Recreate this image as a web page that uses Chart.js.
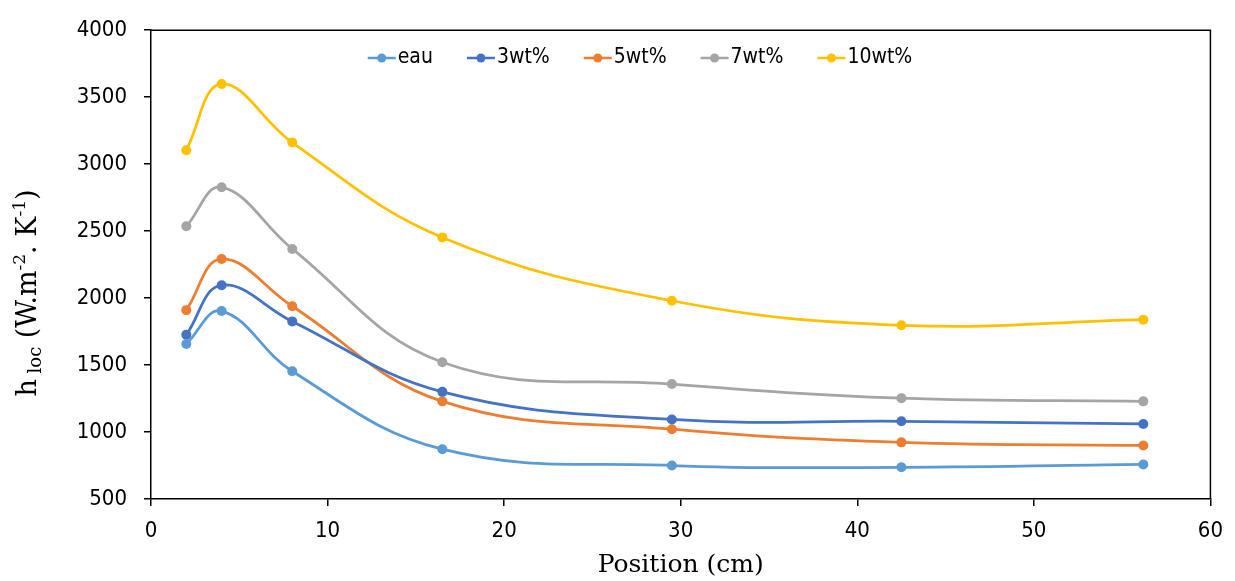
<!DOCTYPE html>
<html lang="fr">
<head>
    <meta charset="UTF-8">
    <title>h loc en fonction de la position</title>
    <style>
        body {
            margin: 0;
            background-color: #fff;
        }
        canvas {
            display: block;
        }
    </style>
    <script src="https://cdn.jsdelivr.net/npm/chart.js"></script>
</head>
<body>
    <canvas id="graphique" width="1235" height="581"></canvas>

    <script>
        // Positions le long du tube (cm)
        const positions = [2, 4, 8, 16.5, 29.5, 42.5, 56.2];

        // h loc (W.m-2.K-1) pour chaque fluide
        const eau = [1657, 1903, 1454, 872, 750, 737, 758];
        const wt3 = [1726, 2096, 1826, 1300, 1094, 1080, 1060];
        const wt5 = [1910, 2292, 1939, 1229, 1021, 923, 900];
        const wt7 = [2536, 2828, 2367, 1521, 1358, 1253, 1229];
        const wt10 = [3104, 3599, 3161, 2453, 1980, 1797, 1839];

        const noms = ['eau', '3wt%', '5wt%', '7wt%', '10wt%'];
        const couleurs = ['#5B9BD5', '#4472C4', '#ED7D31', '#A5A5A5', '#FFC000'];
        const series = [eau, wt3, wt5, wt7, wt10];

        const ticksY = [500, 1000, 1500, 2000, 2500, 3000, 3500, 4000];
        const ticksX = [0, 10, 20, 30, 40, 50, 60];

        const policeTicks = "'Liberation Sans Narrow', 'DejaVu Sans Condensed', sans-serif";
        const policeTitre = "'DejaVu Serif', 'Liberation Serif', serif";

        // Cadre autour de la zone de tracé
        const cadre = {
            id: 'cadre',
            beforeDatasetsDraw(chart) {
                const a = chart.chartArea;
                const ctx = chart.ctx;
                ctx.save();
                ctx.strokeStyle = '#000';
                ctx.lineWidth = 1.5;
                ctx.beginPath();
                ctx.moveTo(a.left, a.top);
                ctx.lineTo(a.right, a.top);
                ctx.lineTo(a.right, a.bottom);
                ctx.stroke();
                ctx.restore();
            }
        };

        // Titres des axes (avec indices et exposants) + légende dans la zone
        const textes = {
            id: 'textes',
            afterDraw(chart) {
                const ctx = chart.ctx;
                const a = chart.chartArea;
                ctx.save();
                ctx.fillStyle = '#000';

                // titre X
                ctx.font = '25px ' + policeTitre;
                ctx.textAlign = 'center';
                ctx.textBaseline = 'middle';
                ctx.fillText('Position (cm)', (a.left + a.right) / 2, 565);

                // titre Y : h_loc (W.m^-2. K^-1)
                const morceaux = [
                    { t: 'h', f: 27, dy: 0 },
                    { t: ' loc', f: 18, dy: 5 },
                    { t: ' (W.m', f: 27, dy: 0 },
                    { t: '-2', f: 17, dy: -11 },
                    { t: '. K', f: 27, dy: 0 },
                    { t: '-1', f: 17, dy: -11 },
                    { t: ')', f: 27, dy: 0 }
                ];
                let total = 0;
                morceaux.forEach(m => {
                    ctx.font = m.f + 'px ' + policeTitre;
                    m.w = ctx.measureText(m.t).width;
                    total += m.w;
                });
                ctx.translate(27, 293);
                ctx.rotate(-Math.PI / 2);
                ctx.textAlign = 'left';
                ctx.textBaseline = 'alphabetic';
                let x = -total / 2;
                morceaux.forEach(m => {
                    ctx.font = m.f + 'px ' + policeTitre;
                    ctx.fillText(m.t, x, 9 + m.dy);
                    x += m.w;
                });
                ctx.restore();

                // légende
                ctx.save();
                ctx.font = '21px ' + policeTicks;
                ctx.textBaseline = 'middle';
                ctx.textAlign = 'left';
                const ligne = 28, ecart = 2, entre = 34;
                let largeur = 0;
                const larg = noms.map(n => ctx.measureText(n).width);
                larg.forEach(w => largeur += ligne + ecart + w);
                largeur += entre * (noms.length - 1);
                let lx = 640 - largeur / 2;
                const ly = 58;
                noms.forEach((n, i) => {
                    ctx.strokeStyle = couleurs[i];
                    ctx.fillStyle = couleurs[i];
                    ctx.lineWidth = 2.5;
                    ctx.beginPath();
                    ctx.moveTo(lx, ly);
                    ctx.lineTo(lx + ligne, ly);
                    ctx.stroke();
                    ctx.beginPath();
                    ctx.arc(lx + ligne / 2, ly, 4.5, 0, Math.PI * 2);
                    ctx.fill();
                    ctx.fillStyle = '#000';
                    ctx.fillText(n, lx + ligne + ecart, ly);
                    lx += ligne + ecart + larg[i] + entre;
                });
                ctx.restore();
            }
        };

        const ctx = document.getElementById('graphique').getContext('2d');

        new Chart(ctx, {
            type: 'line',
            data: {
                datasets: series.map((s, i) => ({
                    label: noms[i],
                    data: s.map((v, j) => ({ x: positions[j], y: v })),
                    borderColor: couleurs[i],
                    backgroundColor: couleurs[i],
                    borderWidth: 2.75,
                    pointRadius: 5,
                    pointBorderWidth: 0,
                    tension: 0.4,
                    fill: false
                }))
            },
            options: {
                responsive: false,
                animation: false,
                layout: {
                    padding: { left: 0, right: 22, top: 22, bottom: 0 }
                },
                scales: {
                    x: {
                        type: 'linear',
                        min: 0,
                        max: 60,
                        afterFit: s => { s.height = 82; },
                        afterBuildTicks: s => { s.ticks = ticksX.map(v => ({ value: v })); },
                        ticks: {
                            color: '#000',
                            padding: 12,
                            maxRotation: 0,
                            callback: v => String(v),
                            font: { family: policeTicks, size: 22 }
                        },
                        grid: {
                            drawOnChartArea: false,
                            drawTicks: true,
                            tickLength: 7,
                            color: '#000',
                            lineWidth: 1.5
                        },
                        border: { display: true, color: '#000', width: 1.5 }
                    },
                    y: {
                        min: 500,
                        max: 4000,
                        afterFit: s => { s.width = 151; },
                        afterBuildTicks: s => { s.ticks = ticksY.map(v => ({ value: v })); },
                        ticks: {
                            color: '#000',
                            padding: 17,
                            callback: v => String(v),
                            font: { family: policeTicks, size: 22 }
                        },
                        grid: {
                            drawOnChartArea: false,
                            drawTicks: true,
                            tickLength: 7,
                            color: '#000',
                            lineWidth: 1.5
                        },
                        border: { display: true, color: '#000', width: 1.5 }
                    }
                },
                plugins: {
                    legend: { display: false },
                    tooltip: { enabled: false }
                }
            },
            plugins: [cadre, textes]
        });
    </script>
</body>
</html>
